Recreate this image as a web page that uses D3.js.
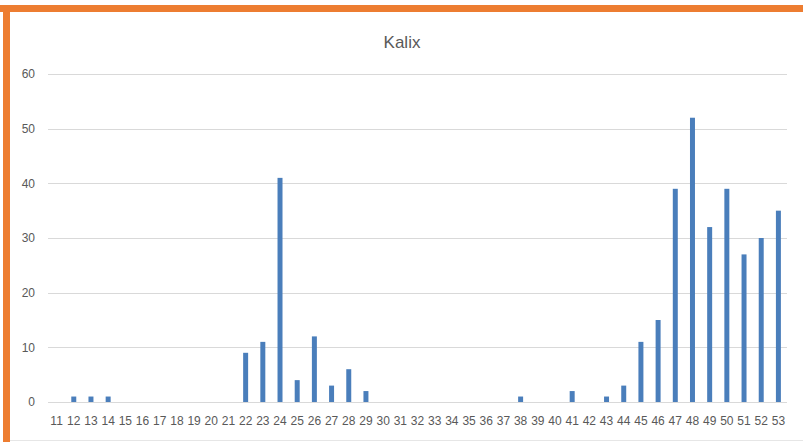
<!DOCTYPE html>
<html><head><meta charset="utf-8">
<script src="https://cdn.jsdelivr.net/npm/d3@7"></script>
<style>body{margin:0;background:#fff;}svg{display:block;}</style>
</head><body>
<script>
const categories = ["11","12","13","14","15","16","17","18","19","20","21","22","23","24","25","26","27","28","29","30","31","32","33","34","35","36","37","38","39","40","41","42","43","44","45","46","47","48","49","50","51","52","53"];
const values = [0,1,1,1,0,0,0,0,0,0,0,9,11,41,4,12,3,6,2,0,0,0,0,0,0,0,0,1,0,0,2,0,1,3,11,15,39,52,32,39,27,30,35];
const yTicks = [0,10,20,30,40,50,60];
const title = "Kalix";

const W = 803, H = 442;
const svg = d3.select("body").append("svg").attr("width", W).attr("height", H);
svg.append("rect").attr("x",0).attr("y",0).attr("width",W).attr("height",H).attr("fill","#fff");
// orange frame
svg.append("rect").attr("x",0).attr("y",5).attr("width",W).attr("height",7).attr("fill","#ED7D31");
svg.append("rect").attr("x",3).attr("y",5).attr("width",7).attr("height",H-5).attr("fill","#ED7D31");
svg.append("line").attr("x1",10).attr("x2",W).attr("y1",440.5).attr("y2",440.5).attr("stroke","#e6e6e6");

const mLeft = 48, mRight = 787, mTop = 74, mBottom = 402;
const x = d3.scaleBand().domain(categories).range([mLeft, mRight]).paddingInner(0.71).paddingOuter(0.355);
const y = d3.scaleLinear().domain([0,60]).range([mBottom, mTop]);

const font = "'Liberation Sans Narrow', 'Liberation Sans', Arial, sans-serif";

// grid
svg.append("g").selectAll("line").data(yTicks).join("line")
  .attr("x1", mLeft).attr("x2", mRight)
  .attr("y1", d => Math.round(y(d)) + 0.5).attr("y2", d => Math.round(y(d)) + 0.5)
  .attr("stroke", "#d9d9d9").attr("stroke-width", 1);

// y axis labels
const yAxis = d3.axisLeft(y).tickValues(yTicks).tickSize(0).tickPadding(13);
const gy = svg.append("g").attr("transform", `translate(${mLeft},0)`).call(yAxis);
gy.select(".domain").remove();
gy.selectAll("text").attr("fill","#595959").style("font-family", font).style("font-size","12px");

// x axis labels
const xAxis = d3.axisBottom(x).tickSize(0).tickPadding(14);
const gx = svg.append("g").attr("transform", `translate(0,${mBottom})`).call(xAxis);
gx.select(".domain").remove();
gx.selectAll("text").attr("fill","#595959").style("font-family", font).style("font-size","12px");

// bars
svg.append("g").selectAll("rect").data(values).join("rect")
  .attr("x", (d,i) => x(categories[i]))
  .attr("width", x.bandwidth())
  .attr("y", d => y(d))
  .attr("height", d => y(0) - y(d))
  .attr("fill", "#4A7EBB");

svg.append("text").attr("x", 402).attr("y", 48).attr("text-anchor","middle")
  .attr("fill","#595959").style("font-family", font).style("font-size","17px").text(title);
</script>
</body></html>
